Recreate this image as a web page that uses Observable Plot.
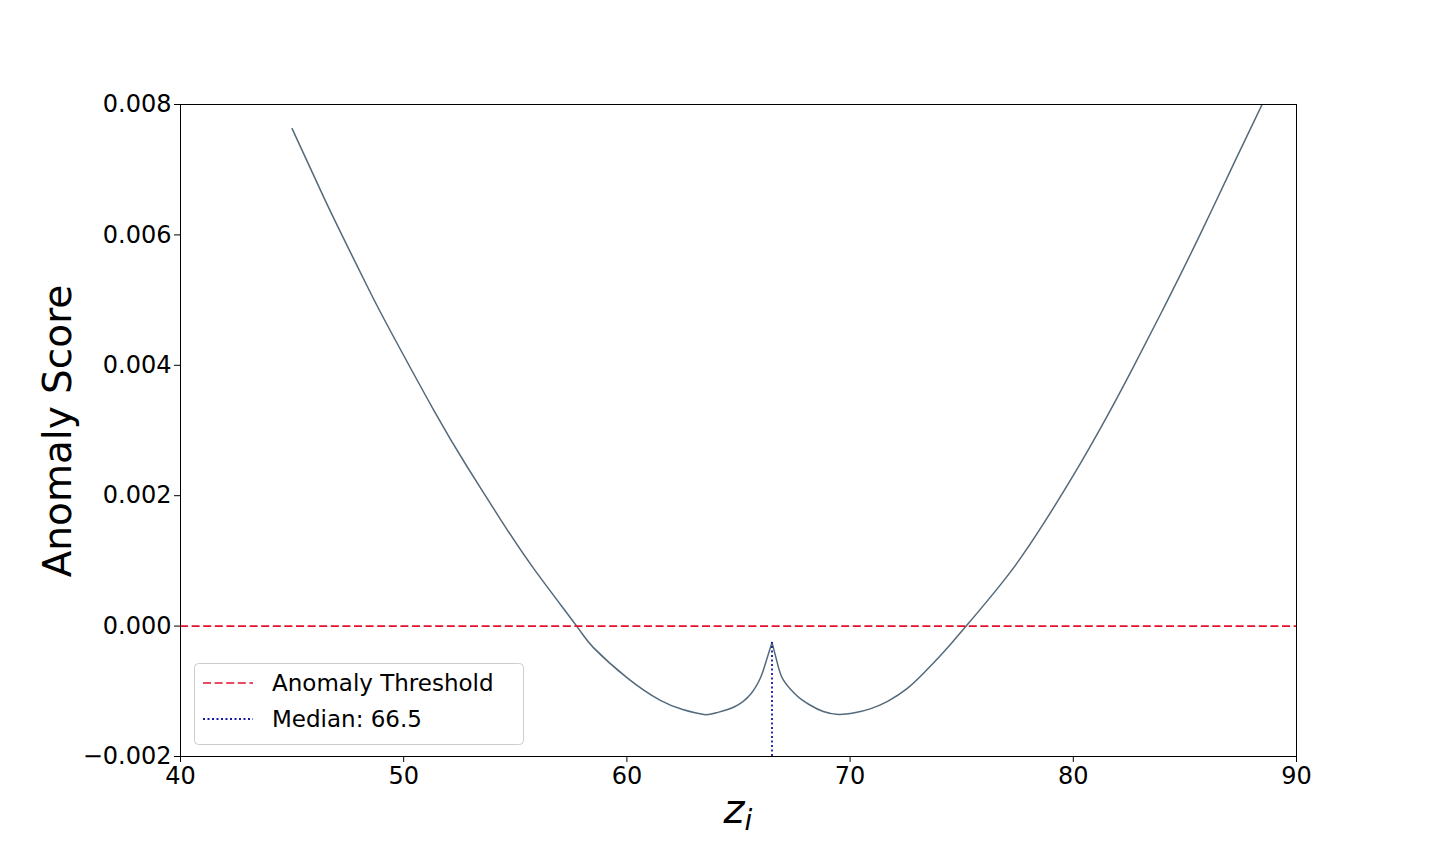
<!DOCTYPE html>
<html>
<head>
<meta charset="utf-8">
<script src="https://cdn.jsdelivr.net/npm/d3@7"></script>
<script src="https://cdn.jsdelivr.net/npm/@observablehq/plot@0.6"></script>
<style>
  html, body { margin: 0; padding: 0; background: white; }
  #chart { position: relative; width: 1440px; height: 864px; }
</style>
</head>
<body>
<div id="chart"></div>
<script>
// ---- data ----
const zValues = [45, 46.4, 47.3, 48.5, 49.4, 51.35, 52.85, 54.35, 55.85, 57.75, 58.5, 60.0, 61.5, 62.5, 63.45, 64.0, 64.8, 65.55, 66.0, 66.2, 66.5, 66.75, 67.0, 67.5, 67.8, 68.2, 68.8, 69.5, 70.2, 70.9, 71.7, 72.55, 73.3, 74.05, 74.6, 75.2, 77.05, 78.55, 80.0, 81.5, 82.7, 84.2, 85.7, 87.2, 88.5];
const scores = [0.00763, 0.00659, 0.00595, 0.00512, 0.00453, 0.00331, 0.00244, 0.00163, 0.00087, 0.0, -0.00033, -0.00079, -0.00114, -0.00128, -0.001356, -0.00133, -0.00124, -0.00104, -0.00078, -0.00058, -0.00025, -0.00058, -0.00082, -0.00103, -0.00112, -0.00121, -0.00131, -0.001356, -0.00133, -0.00127, -0.00115, -0.00096, -0.00072, -0.00045, -0.00024, 0.0, 0.00077, 0.00151, 0.00231, 0.00321, 0.00398, 0.00498, 0.00602, 0.00710, 0.00803];
const threshold = 0.0;
const median = 66.5;
const medianScore = -0.00025;
const xTicks = [40, 50, 60, 70, 80, 90];
const yTicks = [-0.002, 0.000, 0.002, 0.004, 0.006, 0.008];
const legendLabels = ["Anomaly Threshold", "Median: " + median];

// split into the two branches meeting at the median cusp
const data = [];
zValues.forEach((z, i) => {
  if (z <= median) data.push({z, score: scores[i], side: "L"});
  if (z >= median) data.push({z, score: scores[i], side: "R"});
});
const yFmt = d3.format(".3f");

const curveColor = "#536a7c";
const threshColor = "#e4102e";
const medianColor = "#1616a8";

const plot = Plot.plot({
  width: 1440,
  height: 864,
  marginLeft: 180,
  marginRight: 144,
  marginTop: 104,
  marginBottom: 108,
  style: {fontFamily: "'DejaVu Sans', sans-serif", fontSize: "24px", color: "black", background: "white"},
  x: {domain: [40, 90]},
  y: {domain: [-0.002, 0.008]},
  marks: [
    Plot.line(data, {x: "z", y: "score", z: "side", stroke: curveColor, strokeWidth: 1.5, curve: "natural", clip: true}),
    Plot.ruleY([threshold], {stroke: threshColor, strokeWidth: 1.7, strokeDasharray: "8,3.6"}),
    Plot.ruleX([median], {y1: -0.002, y2: medianScore, stroke: medianColor, strokeWidth: 1.8, strokeDasharray: "2,2.5"}),
    Plot.frame({stroke: "black", strokeWidth: 1}),
    Plot.axisX({ticks: xTicks, tickSize: 6, tickPadding: 4, label: null, fontSize: 24, tickFormat: d => String(d)}),
    Plot.axisY({ticks: yTicks, tickSize: 6, tickPadding: 3, label: null, fontSize: 24, tickFormat: yFmt})
  ]
});

document.getElementById("chart").appendChild(plot);

const svg = d3.select(plot);
const font = "'DejaVu Sans', sans-serif";

// y axis label
svg.append("text")
  .attr("transform", "translate(71,431) rotate(-90)")
  .attr("text-anchor", "middle")
  .attr("font-family", font)
  .attr("font-size", 39)
  .attr("fill", "black")
  .text("Anomaly Score");

// x axis label z_i
const xl = svg.append("text")
  .attr("x", 738)
  .attr("y", 823)
  .attr("text-anchor", "middle")
  .attr("font-family", font)
  .attr("font-size", 40)
  .attr("font-style", "italic")
  .attr("fill", "black");
xl.append("tspan").text("z");
xl.append("tspan").attr("font-size", 28).attr("dy", 7).text("i");

// legend
const lg = svg.append("g");
lg.append("rect")
  .attr("x", 194.5).attr("y", 663.5).attr("width", 329).attr("height", 81).attr("rx", 4)
  .attr("fill", "white").attr("fill-opacity", 0.8).attr("stroke", "#cccccc");
lg.append("line").attr("x1", 203).attr("x2", 253).attr("y1", 683).attr("y2", 683)
  .attr("stroke", threshColor).attr("stroke-width", 1.7).attr("stroke-dasharray", "8,3.6");
lg.append("line").attr("x1", 203).attr("x2", 253).attr("y1", 719).attr("y2", 719)
  .attr("stroke", medianColor).attr("stroke-width", 1.8).attr("stroke-dasharray", "2,2.5");
legendLabels.forEach((t, i) => {
  lg.append("text").attr("x", 272).attr("y", 683 + i * 36)
    .attr("text-anchor", "start")
    .attr("dominant-baseline", "central")
    .attr("font-family", font).attr("font-size", 23).attr("fill", "black")
    .text(t);
});
</script>
</body>
</html>
